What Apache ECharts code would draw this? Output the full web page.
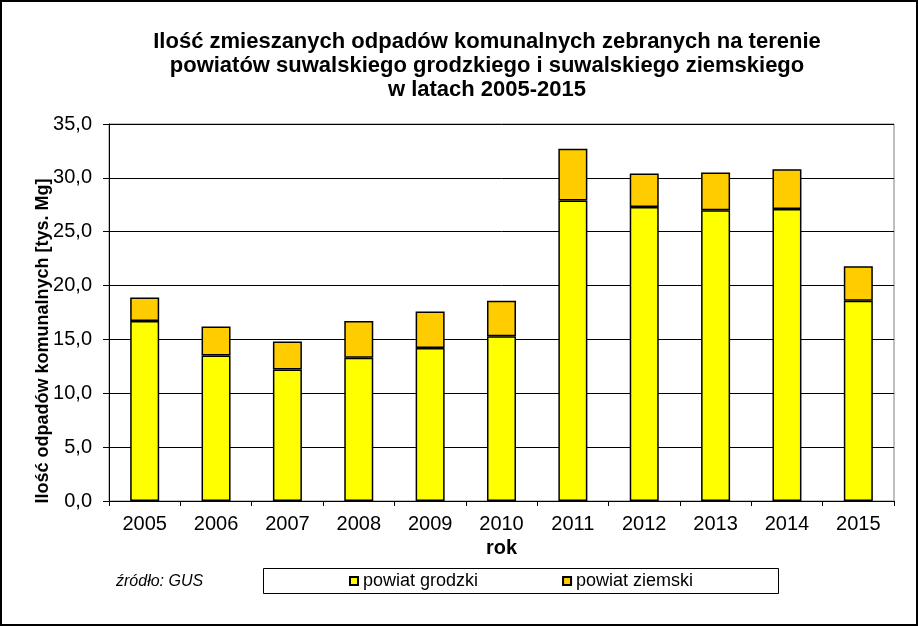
<!DOCTYPE html>
<html>
<head>
<meta charset="utf-8">
<script src="https://cdn.jsdelivr.net/npm/echarts@6/dist/echarts.min.js"></script>
<style>
html,body{margin:0;padding:0;background:#fff;}
#c{width:918px;height:626px;}
</style>
</head>
<body>
<div id="c"></div>
<script>
const years = ['2005','2006','2007','2008','2009','2010','2011','2012','2013','2014','2015'];
const grodzki = [16.7, 13.5, 12.2, 13.3, 14.2, 15.3, 27.9, 27.3, 27.0, 27.1, 18.6];
const ziemski = [2.2, 2.7, 2.6, 3.4, 3.4, 3.3, 4.8, 3.1, 3.5, 3.7, 3.2];
const seriesNames = ['powiat grodzki', 'powiat ziemski'];
const titleText = 'Ilość zmieszanych odpadów komunalnych zebranych na terenie\npowiatów suwalskiego grodzkiego i suwalskiego ziemskiego\nw latach 2005-2015';
const yAxisTitle = 'Ilość odpadów komunalnych [tys. Mg]';
const xAxisTitle = 'rok';
const sourceText = 'źródło: GUS';

const chart = echarts.init(document.getElementById('c'));
const font = 'Arial, "Liberation Sans", sans-serif';
chart.setOption({
  backgroundColor: '#fff',
  animation: false,
  title: {
    text: titleText,
    left: 482, top: 25, textAlign: 'center',
    textStyle: {fontFamily: font, fontSize: 22, fontWeight: 'bold', color: '#000', lineHeight: 24}
  },
  grid: {left: 109, right: 24, top: 124, bottom: 125, show: true, borderColor: '#808080', borderWidth: 1},
  legend: {
    data: seriesNames,
    left: 349, top: 572,
    padding: 0,
    itemGap: 84,
    itemWidth: 8, itemHeight: 8,
    icon: 'rect',
    textStyle: {fontFamily: font, fontSize: 18, color: '#000', lineHeight: 18}
  },
  xAxis: {
    type: 'category', data: years,
    name: xAxisTitle, nameLocation: 'middle', nameGap: 37,
    nameTextStyle: {fontFamily: font, fontSize: 20, fontWeight: 'bold', color: '#000'},
    axisLine: {lineStyle: {color: '#000', width: 1}},
    axisTick: {show: true, length: 5, lineStyle: {color: '#000'}},
    axisLabel: {fontFamily: font, fontSize: 20, color: '#000', margin: 13}
  },
  yAxis: {
    type: 'value', min: 0, max: 35, interval: 5,
    axisLine: {show: true, lineStyle: {color: '#000', width: 1}},
    axisTick: {show: true, length: 6, lineStyle: {color: '#000'}},
    splitLine: {lineStyle: {color: '#000', width: 1}},
    axisLabel: {fontFamily: font, fontSize: 20, color: '#000', margin: 17,
      formatter: v => v.toFixed(1).replace('.', ',')}
  },
  series: [
    {name: seriesNames[0], type: 'bar', stack: 'a', data: grodzki, barWidth: 29,
     itemStyle: {color: '#FFFF00', borderColor: '#000', borderWidth: 1.5}},
    {name: seriesNames[1], type: 'bar', stack: 'a', data: ziemski, barWidth: 29,
     itemStyle: {color: '#FFCC00', borderColor: '#000', borderWidth: 1.5}}
  ],
  graphic: [
    {type: 'rect', shape: {x: 263.5, y: 568.5, width: 515, height: 25}, z: -1,
     style: {fill: '#fff', stroke: '#000', lineWidth: 1}, silent: true},
    {type: 'text', x: 43, y: 341, rotation: Math.PI / 2,
     style: {text: yAxisTitle, font: 'bold 18px Arial, "Liberation Sans", sans-serif', fill: '#000',
             textAlign: 'center', textVerticalAlign: 'middle'}},
    {type: 'text', x: 116, y: 582,
     style: {text: sourceText, font: 'italic 16px Arial, "Liberation Sans", sans-serif', fill: '#000',
             textAlign: 'left', textVerticalAlign: 'middle'}},
    {type: 'rect', shape: {x: 1, y: 1, width: 916, height: 624},
     style: {fill: 'none', stroke: '#000', lineWidth: 2}, silent: true}
  ]
});
</script>
</body>
</html>
